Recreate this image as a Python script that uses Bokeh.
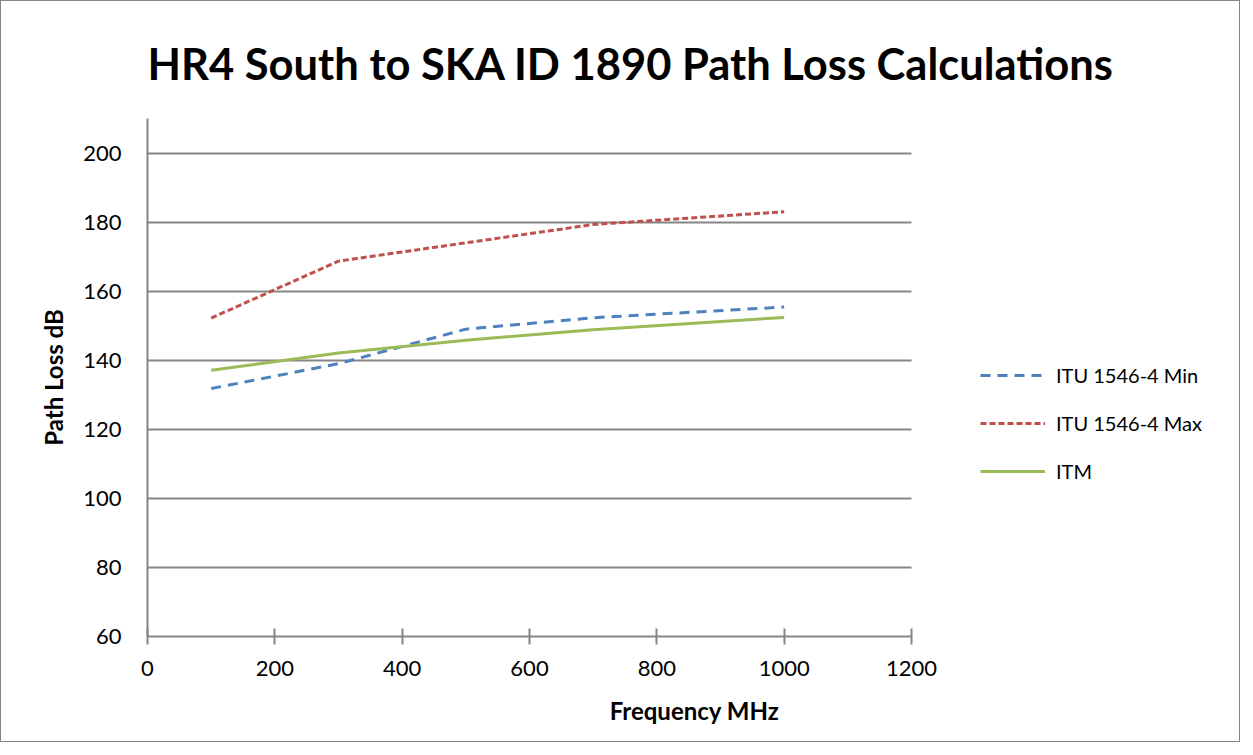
from bokeh.plotting import figure
from bokeh.models import Legend, LegendItem, Range1d, FixedTicker, ColumnDataSource
from bokeh.embed import file_html
from bokeh.resources import INLINE

# ---- data ----
freq_mhz = [100, 300, 500, 700, 1000]
itu_min = [131.8, 139.0, 149.0, 152.3, 155.4]
itu_max = [152.2, 168.7, 174.0, 179.3, 183.0]
itm = [137.1, 142.1, 145.8, 148.8, 152.4]

x_ticks = [0, 200, 400, 600, 800, 1000, 1200]
y_ticks = [60, 80, 100, 120, 140, 160, 180, 200]

title_text = "HR4 South to SKA ID 1890 Path Loss Calculations"
series_names = ["ITU 1546-4 Min", "ITU 1546-4 Max", "ITM"]

FONT = "Lato"
GRID = "#868686"

# layout constants (pixels)
W, H = 1240, 742
LEFT, TOP, BOTTOM = 146, 117, 107
AXIS_PX = 764            # pixel length of the 0..1200 x axis
X_AXIS_MAX = 1200
frame_w = W - LEFT       # frame runs to the right edge so the legend is inside it
x_end = X_AXIS_MAX * frame_w / AXIS_PX

p = figure(width=W, height=H, output_backend="svg", toolbar_location=None,
           x_range=Range1d(0, x_end), y_range=Range1d(60, 210),
           min_border_left=LEFT, min_border_right=0, min_border_top=TOP, min_border_bottom=BOTTOM)
p.styles = {"border": "1px solid #868686", "box-sizing": "border-box"}

p.title.text = title_text
p.title.text_font = FONT
p.title.text_font_style = "bold"
p.title.text_font_size = "43.5px"
p.title.align = "left"
p.title.offset = 0
p.title.standoff = 60
p.title.text_color = "black"

p.outline_line_color = None
p.background_fill_color = "white"
p.border_fill_color = "white"

p.xgrid.grid_line_color = None
p.ygrid.grid_line_color = GRID
p.ygrid.grid_line_width = 2
p.ygrid.ticker = FixedTicker(ticks=y_ticks)
p.ygrid.cross_bounds = (0, X_AXIS_MAX)

p.xaxis.ticker = FixedTicker(ticks=x_ticks)
p.xaxis.bounds = (0, X_AXIS_MAX)
p.yaxis.ticker = FixedTicker(ticks=y_ticks)
for ax in (p.xaxis[0], p.yaxis[0]):
    ax.axis_line_color = GRID
    ax.axis_line_width = 2
    ax.major_tick_line_color = GRID
    ax.major_tick_line_width = 2
    ax.minor_tick_line_color = None
    ax.major_label_text_font = FONT
    ax.major_label_text_font_size = "22px"
    ax.major_label_text_color = "black"
    ax.axis_label_text_font = FONT
    ax.axis_label_text_font_style = "bold"
    ax.axis_label_text_font_size = "24px"
    ax.axis_label_text_color = "black"

p.xaxis.major_tick_in = 8
p.xaxis.major_tick_out = 8
p.xaxis.major_label_standoff = 16
p.xaxis.axis_label = "Frequency MHz"
p.xaxis.axis_label_standoff = 17

p.yaxis.major_tick_in = 0
p.yaxis.major_tick_out = 0
p.yaxis.major_label_standoff = 26
p.yaxis.axis_label = "Path Loss dB"
p.yaxis.axis_label_standoff = 12

src = ColumnDataSource(dict(x=freq_mhz, a=itu_min, b=itu_max, c=itm))
r1 = p.line("x", "a", source=src, line_color="#4F81BD", line_width=3, line_dash="10 7")
r2 = p.line("x", "b", source=src, line_color="#C0504D", line_width=3, line_dash="6 3")
r3 = p.line("x", "c", source=src, line_color="#9BBB59", line_width=3)

legend = Legend(items=[LegendItem(label=series_names[0], renderers=[r1]),
                       LegendItem(label=series_names[1], renderers=[r2]),
                       LegendItem(label=series_names[2], renderers=[r3])],
                location=(833, 153), orientation="vertical")
legend.border_line_color = None
legend.background_fill_alpha = 0
legend.label_text_font = FONT
legend.label_text_font_size = "20px"
legend.label_text_color = "black"
legend.glyph_width = 65
legend.glyph_height = 24
legend.label_height = 24
legend.spacing = 24
legend.padding = 4
legend.margin = 0
legend.label_standoff = 11
p.add_layout(legend)

open("out.html", "w").write(file_html(p, INLINE))
